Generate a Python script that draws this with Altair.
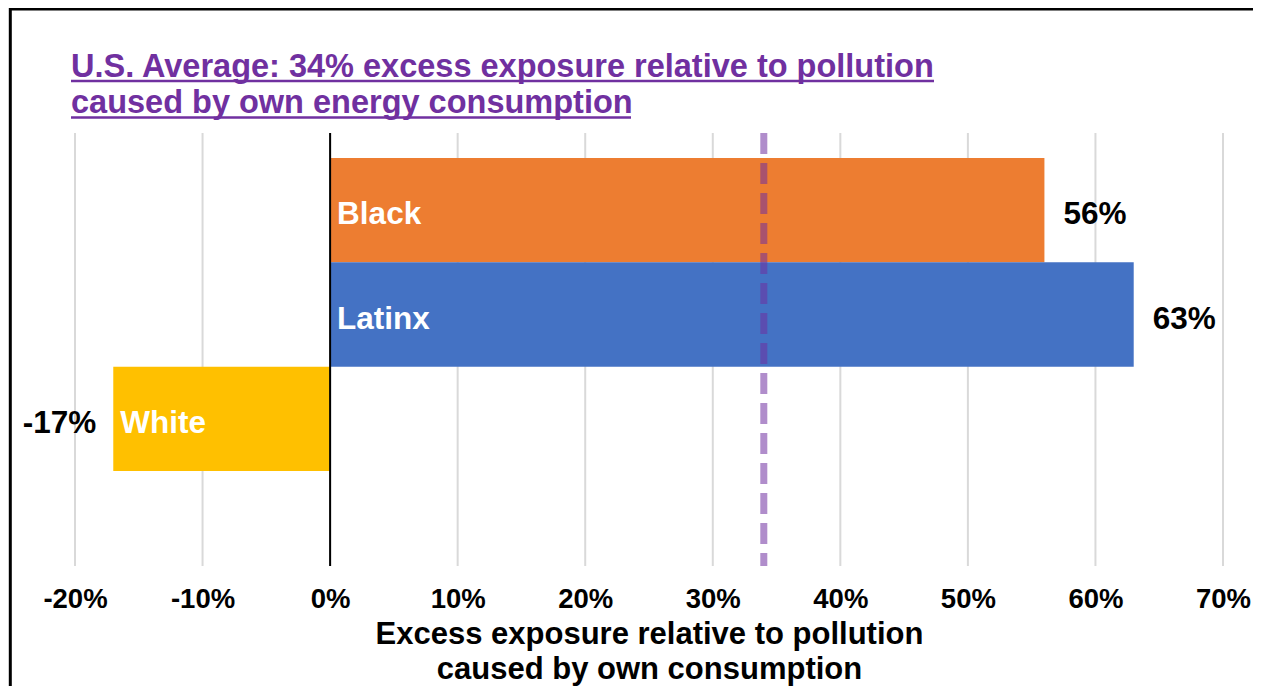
import altair as alt
import pandas as pd

categories = ["Black", "Latinx", "White"]
values = [0.56, 0.63, -0.17]
value_labels = ["56%", "63%", "-17%"]
colors = ["#ED7D31", "#4472C4", "#FFC000"]
us_average = 0.34
tick_values = [-0.2, -0.1, 0.0, 0.1, 0.2, 0.3, 0.4, 0.5, 0.6, 0.7]
title_lines = ["U.S. Average: 34% excess exposure relative to pollution",
               "caused by own energy consumption"]
axis_title = ["Excess exposure relative to pollution", "caused by own consumption"]

FONT = "Liberation Sans"
W, H = 1148, 433

df = pd.DataFrame({"group": categories, "value": values, "label": value_labels})
df["start"] = df["value"].clip(upper=0)

xs = alt.Scale(domain=[-0.2, 0.7], nice=False, zero=False)
ys = alt.Scale(domain=categories, range=[25, 338], paddingInner=0, paddingOuter=0)

base = alt.Chart(df)

grid_df = pd.DataFrame({"x": tick_values})
grid = alt.Chart(grid_df).mark_rule(color="#D9D9D9", strokeWidth=2).encode(
    x=alt.X("x:Q", scale=xs,
            axis=alt.Axis(values=tick_values, format=".0%", grid=False, domain=False,
                          ticks=False, tickSize=0, labelPadding=19,
                          labelExpr="replace(datum.label, '\u2212', '-')",
                          labelFont=FONT, labelFontSize=27.5, labelFontWeight="bold",
                          labelColor="black", labelFlush=False, labelOverlap=False,
                          title=axis_title, titleFont=FONT, titleFontSize=31,
                          titleFontWeight="bold", titleColor="black",
                          titleLineHeight=35, titlePadding=7)))

bars = base.mark_bar(size=104.3, strokeWidth=0).encode(
    x=alt.X("value:Q", scale=xs),
    x2=alt.datum(0),
    y=alt.Y("group:N", scale=ys, axis=None),
    color=alt.Color("group:N", scale=alt.Scale(domain=categories, range=colors), legend=None),
)

zero_df = pd.DataFrame({"x": [0.0]})
zero_rule = alt.Chart(zero_df).mark_rule(color="black", strokeWidth=2).encode(
    x=alt.X("x:Q", scale=xs))

avg_df = pd.DataFrame({"x": [us_average]})
avg_rule = alt.Chart(avg_df).mark_rule(color="#7030A0", opacity=0.55, strokeWidth=7,
                                       strokeDash=[21, 9], strokeCap="butt").encode(
    x=alt.X("x:Q", scale=xs))

inner = base.mark_text(align="left", baseline="middle", dx=7, dy=5, font=FONT,
                       fontSize=31.5, fontWeight="bold", color="white").encode(
    x=alt.X("start:Q", scale=xs), y=alt.Y("group:N", scale=ys), text="group:N")

pos = base.transform_filter("datum.value >= 0").mark_text(
    align="left", baseline="middle", dx=19, dy=5, font=FONT, fontSize=31.5,
    fontWeight="bold", color="black").encode(
    x=alt.X("value:Q", scale=xs), y=alt.Y("group:N", scale=ys), text="label:N")

neg = base.transform_filter("datum.value < 0").mark_text(
    align="right", baseline="middle", dx=-17, dy=5, font=FONT, fontSize=31.5,
    fontWeight="bold", color="black").encode(
    x=alt.X("value:Q", scale=xs), y=alt.Y("group:N", scale=ys), text="label:N")

one = pd.DataFrame({"k": [0]})
title = alt.Chart(one).mark_text(text=title_lines, align="left", baseline="alphabetic",
                                 font=FONT, fontSize=32.5, fontWeight="bold",
                                 color="#7030A0", lineHeight=36).encode(
    x=alt.value(-4), y=alt.value(-56.5))
ul1 = alt.Chart(one).mark_rule(color="#7030A0", strokeWidth=2.5).encode(
    x=alt.value(-4), x2=alt.value(859), y=alt.value(-52))
ul2 = alt.Chart(one).mark_rule(color="#7030A0", strokeWidth=2.5).encode(
    x=alt.value(-4), x2=alt.value(556), y=alt.value(-15.5))

frame = alt.Chart(one).mark_rect(fillOpacity=0, stroke="black", strokeWidth=3).encode(
    x=alt.value(-64.7), x2=alt.value(W + 200), y=alt.value(-124), y2=alt.value(H + 200))

chart = alt.layer(frame, grid, bars, zero_rule, avg_rule, inner, pos, neg, title, ul1, ul2).properties(
    width=W, height=H,
    padding={"left": 67, "top": 125, "right": 30, "bottom": 120},
    autosize=alt.AutoSizeParams(type="none"),
    background="white",
).configure_view(stroke=None)

chart.save("out.html", embed_options={"renderer": "svg", "actions": False})
